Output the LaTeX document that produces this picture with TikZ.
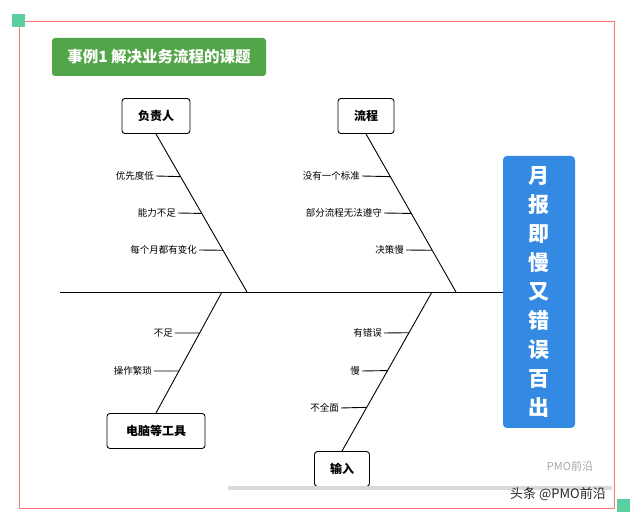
\documentclass[tikz,border=0pt]{standalone}
\usepackage{fontspec}
\setmainfont{Noto Sans CJK SC}
\usetikzlibrary{calc}

\definecolor{mint}{RGB}{92,207,160}
\definecolor{headblue}{RGB}{52,137,226}
\definecolor{titlegreen}{RGB}{82,165,72}

\tikzset{
  cause/.style={draw, rounded corners=3pt, line width=0.9pt, minimum height=35, inner xsep=8pt, font=\fontsize{12}{14}\selectfont\bfseries},
  bone/.style={line width=0.9pt},
  item/.style={anchor=east, inner sep=2pt, font=\fontsize{9.5}{11}\selectfont},
}

\begin{document}
\begin{tikzpicture}[x=1pt, y=-1pt]
  \useasboundingbox (0,0) rectangle (640,518);

  % frame
  \draw[red!55, line width=0.8pt] (19,21) rectangle (614,508);
  \fill[mint] (12,14) rectangle (25,27);
  \fill[mint] (617,499) rectangle (630,512);

  % title
  \node[fill=titlegreen, rounded corners=3pt, text=white, minimum width=214, minimum height=38, font=\fontsize{15.5}{17}\selectfont\bfseries] (title) at (159,57) {事例1\ 解决业务流程的课题};

  % head
  \node[fill=headblue, rounded corners=4pt, minimum width=72, minimum height=272, text=white, align=center, inner sep=0pt, font=\fontsize{21}{29}\selectfont\bfseries] (head) at (539,292) {月\\报\\即\\慢\\又\\错\\误\\百\\出};

  % spine
  \coordinate (tail) at (60,292);
  \draw[bone] (tail) -- (head.west);

  % causes
  \node[cause, minimum width=68] (resp) at (156,116) {负责人};
  \node[cause, minimum width=56] (flow) at (366,116) {流程};
  \node[cause, minimum width=98] (tool) at (156,431) {电脑等工具};
  \node[cause, minimum width=55] (input) at (342,469) {输入};

  \coordinate (r1) at (247,292);
  \coordinate (f1) at (456,292);
  \coordinate (t1) at (222,292);
  \coordinate (i1) at (432,292);

  \draw[bone] (resp.south) -- (r1);
  \draw[bone] (flow.south) -- (f1);
  \draw[bone] (tool.north) -- (t1);
  \draw[bone] (input.north) -- (i1);

  % items
  \node[item] (r_a) at (156,176) {优先度低};
  \node[item] (r_b) at (178,213) {能力不足};
  \node[item] (r_c) at (199,250) {每个月都有变化};
  \draw[bone] (r_a.east) -- ($(resp.south)!0.27!(r1)$);
  \draw[bone] (r_b.east) -- ($(resp.south)!0.503!(r1)$);
  \draw[bone] (r_c.east) -- ($(resp.south)!0.736!(r1)$);

  \node[item] (f_a) at (362,176) {没有一个标准};
  \node[item] (f_b) at (384,213) {部分流程无法遵守};
  \node[item] (f_c) at (406,250) {决策慢};
  \draw[bone] (f_a.east) -- ($(flow.south)!0.27!(f1)$);
  \draw[bone] (f_b.east) -- ($(flow.south)!0.503!(f1)$);
  \draw[bone] (f_c.east) -- ($(flow.south)!0.736!(f1)$);

  \node[item] (t_a) at (175,333) {不足};
  \node[item] (t_b) at (154,371) {操作繁琐};
  \draw[bone] (t_a.east) -- ($(t1)!0.339!(tool.north)$);
  \draw[bone] (t_b.east) -- ($(t1)!0.653!(tool.north)$);

  \node[item] (i_a) at (384,333) {有错误};
  \node[item] (i_b) at (362,371) {慢};
  \node[item] (i_c) at (341,408) {不全面};
  \draw[bone] (i_a.east) -- ($(i1)!0.256!(input.north)$);
  \draw[bone] (i_b.east) -- ($(i1)!0.494!(input.north)$);
  \draw[bone] (i_c.east) -- ($(i1)!0.725!(input.north)$);

  % watermark
  \fill[black!15] (228,486) rectangle (612,490);
  \node[text=black!35, font=\fontsize{11}{13}\selectfont] (wm1) at (570,466) {PMO前沿};
  \node[text=black!85, font=\fontsize{13}{15}\selectfont] (wm2) at (558,494) {头条 @PMO前沿};
\end{tikzpicture}
\end{document}
